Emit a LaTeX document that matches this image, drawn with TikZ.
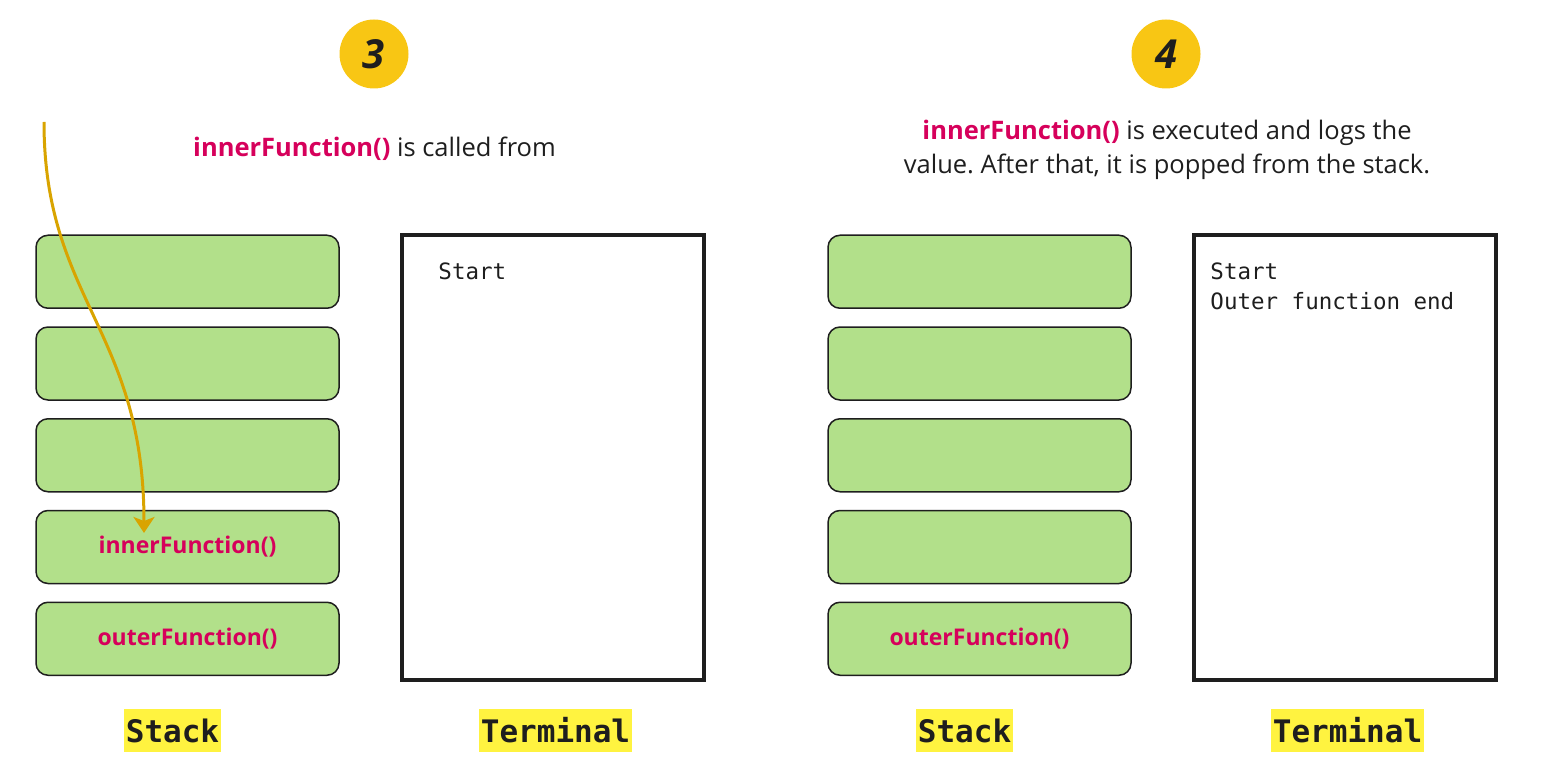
\documentclass[tikz,border=0pt]{standalone}
\usepackage{fontspec}
\setmainfont{Open Sans}
\setmonofont{DejaVu Sans Mono}
\usetikzlibrary{arrows.meta}
\frenchspacing

\definecolor{vert}{HTML}{B2E08A}
\definecolor{rose}{HTML}{D6005B}
\definecolor{jaune}{HTML}{F8C614}
\definecolor{surligne}{HTML}{FFF340}
\definecolor{ocre}{HTML}{D9A400}
\definecolor{encre}{HTML}{1E1E1E}

\tikzset{
  case/.style={draw=encre, line width=1.5pt, fill=vert, rounded corners=12pt,
    minimum width=303pt, minimum height=73pt, inner sep=0pt, text=rose,
    font=\fontsize{23}{26}\selectfont\bfseries},
  ecran/.style={draw=encre, line width=3.5pt, minimum width=302pt,
    minimum height=445pt, inner sep=0pt},
  sortie/.style={anchor=north west, align=left, inner sep=0pt, text=encre,
    font=\fontsize{22.5}{30}\selectfont\ttfamily},
  etiquette/.style={fill=surligne, text=encre, inner xsep=1.5pt, inner ysep=0pt,
    minimum height=43pt, font=\fontsize{31}{36}\selectfont\ttfamily\bfseries},
  pastille/.style={circle, fill=jaune, minimum size=69pt, inner sep=0pt, text=encre,
    font=\fontsize{40}{44}\selectfont\bfseries\itshape},
  texte/.style={align=center, text=encre, font=\fontsize{25.5}{34}\selectfont},
  fleche/.style={draw=ocre, line width=3pt,
    -{Stealth[length=16pt, width=21pt, inset=4pt]}}
}

\begin{document}
\begin{tikzpicture}[x=1pt, y=-1pt]
    \useasboundingbox (0,0) rectangle (1562,783);

    % Étape 3
    \node[pastille] (n3) at (374,54) {3};
    \node[texte] (d3) at (374.5,149) {\textcolor{rose}{\bfseries innerFunction()} is called from};

    % Pile de l'étape 3
    \foreach \i/\nom in {1/{},2/{},3/{},4/innerFunction(),5/outerFunction()}
        \node[case] (p3\i) at (187.5,{180+91.75*\i}) {\nom};

    % Terminal de l'étape 3
    \node[ecran] (t3) at (553,457.5) {};
    \node[sortie] (o3) at ([xshift=38pt,yshift=-29pt]t3.north west) {Start};

    % Appel de innerFunction()
    \coordinate (depart) at (44,122);
    \coordinate (arrivee) at (144,533);
    \draw[fleche] (depart) .. controls (44,300) and (144,330) .. (arrivee);

    % Légendes de l'étape 3
    \node[etiquette] (l3a) at (172.5,730.5) {Stack};
    \node[etiquette] (l3b) at (555.5,730.5) {Terminal};

    % Étape 4
    \node[pastille] (n4) at (1166,54) {4};
    \node[texte] (d4) at (1167,150) {\textcolor{rose}{\bfseries innerFunction()} is executed and logs the\\
        value. After that, it is popped from the stack.};

    % Pile de l'étape 4
    \foreach \i/\nom in {1/{},2/{},3/{},4/{},5/outerFunction()}
        \node[case] (p4\i) at (979.5,{180+91.75*\i}) {\nom};

    % Terminal de l'étape 4
    \node[ecran] (t4) at (1345,457.5) {};
    \node[sortie] (o4) at ([xshift=18pt,yshift=-29pt]t4.north west) {Start\\Outer function end};

    % Légendes de l'étape 4
    \node[etiquette] (l4a) at (964.5,730.5) {Stack};
    \node[etiquette] (l4b) at (1347.5,730.5) {Terminal};
\end{tikzpicture}
\end{document}
